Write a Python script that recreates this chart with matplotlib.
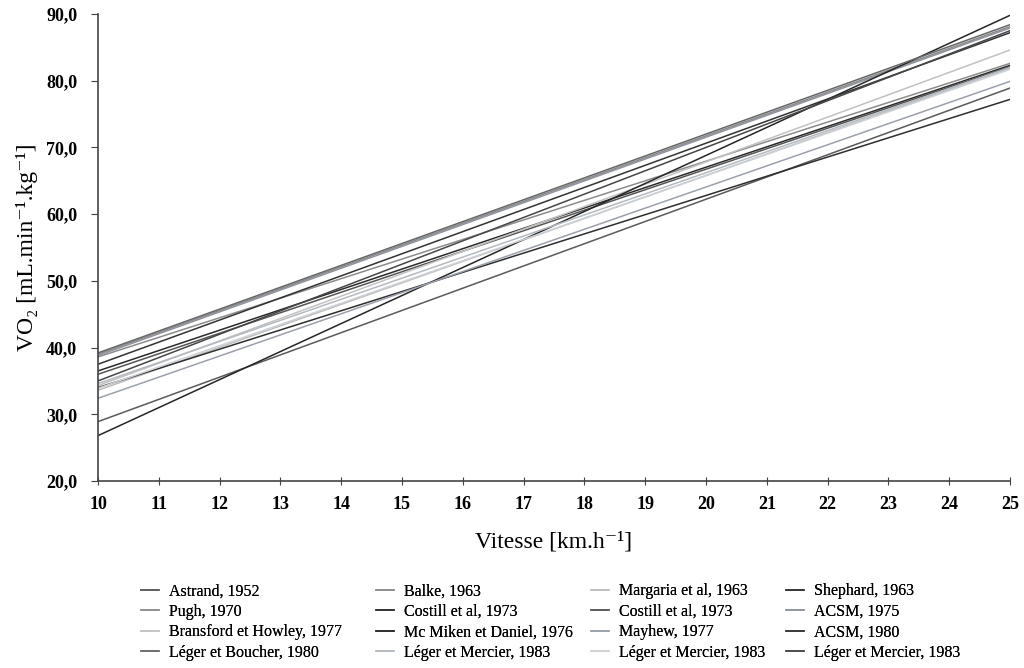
import matplotlib
matplotlib.use("Agg")
import matplotlib.pyplot as plt
import numpy as np

# --- Daten: VO2 bei 10 und 25 km/h je Gleichung ---
SPEED = [10, 25]
NAMES = [
    "Astrand, 1952", "Balke, 1963", "Margaria et al, 1963", "Shephard, 1963",
    "Pugh, 1970", "Costill et al, 1973", "Costill et al, 1973", "ACSM, 1975",
    "Bransford et Howley, 1977", "Mc Miken et Daniel, 1976", "Mayhew, 1977", "ACSM, 1980",
    "Léger et Boucher, 1980", "Léger et Mercier, 1983", "Léger et Mercier, 1983",
    "Léger et Mercier, 1983",
]
VO2_AT_10 = [28.9, 39.0, 33.6, 34.0,
             38.6, 36.5, 36.0, 38.8,
             34.3, 26.8, 32.4, 37.5,
             39.2, 34.6, 33.9, 35.0]
VO2_AT_25 = [78.9, 88.1, 81.9, 77.2,
             82.6, 82.3, 82.1, 87.9,
             84.6, 89.8, 79.9, 87.2,
             88.4, 82.0, 81.7, 87.5]
COLORS = ["#5a5a5a", "#8a8a8a", "#bdbdbd", "#2e2e2e",
          "#8c8c8c", "#2a2a2a", "#555555", "#8d949e",
          "#c2c2c2", "#262626", "#9aa1ab", "#333333",
          "#676767", "#b3bac2", "#cdd1d6", "#464646"]

YTICKS = [20, 30, 40, 50, 60, 70, 80, 90]
XTICKS = list(range(10, 26))

plt.rcParams["font.family"] = ["Liberation Serif", "DejaVu Serif"]

fig = plt.figure(figsize=(10.24, 6.68), dpi=100)
ax = fig.add_axes([98 / 1024, 1 - 481 / 668, 912 / 1024, 467 / 668])

handles = []
for name, y0, y1, c in zip(NAMES, VO2_AT_10, VO2_AT_25, COLORS):
    h, = ax.plot(SPEED, [y0, y1], color=c, lw=1.1, label=name)
    handles.append(h)

ax.set_xlim(10, 25)
ax.set_ylim(20, 90)
ax.set_xticks(XTICKS)
ax.set_yticks(YTICKS)
ax.set_yticklabels([f"{v:.1f}".replace(".", ",") for v in YTICKS],
                   fontweight="bold", fontsize=13)
ax.set_xticklabels([str(v) for v in XTICKS], fontweight="bold", fontsize=13)
for side in ("top", "right"):
    ax.spines[side].set_visible(False)
for side in ("left", "bottom"):
    ax.spines[side].set_color("#444444")
    ax.spines[side].set_linewidth(1.2)
ax.tick_params(axis="y", direction="out", length=5, color="#444444", pad=10)
ax.tick_params(axis="x", direction="inout", length=6, color="#444444", pad=8)

ax.set_xlabel("Vitesse [km.h⁻¹]", fontsize=17, labelpad=13)
ax.set_ylabel("VO₂ [mL.min⁻¹.kg⁻¹]", fontsize=17, labelpad=6)

# Legende: 4 Spalten, zeilenweise gefuellt -> je Spalte eine eigene Legende
ncol = 4
col_x = [127, 362, 577, 772]
for c in range(ncol):
    idx = list(range(c, len(NAMES), ncol))
    leg = fig.legend([handles[i] for i in idx], [NAMES[i] for i in idx],
                     loc="upper left", bbox_to_anchor=(col_x[c] / 1024, 1 - 569 / 668),
                     frameon=False, fontsize=11.5, handlelength=1.1,
                     handletextpad=0.6, labelspacing=0.28)
    fig.add_artist(leg)

fig.savefig("out.png", dpi=100, facecolor="white")
